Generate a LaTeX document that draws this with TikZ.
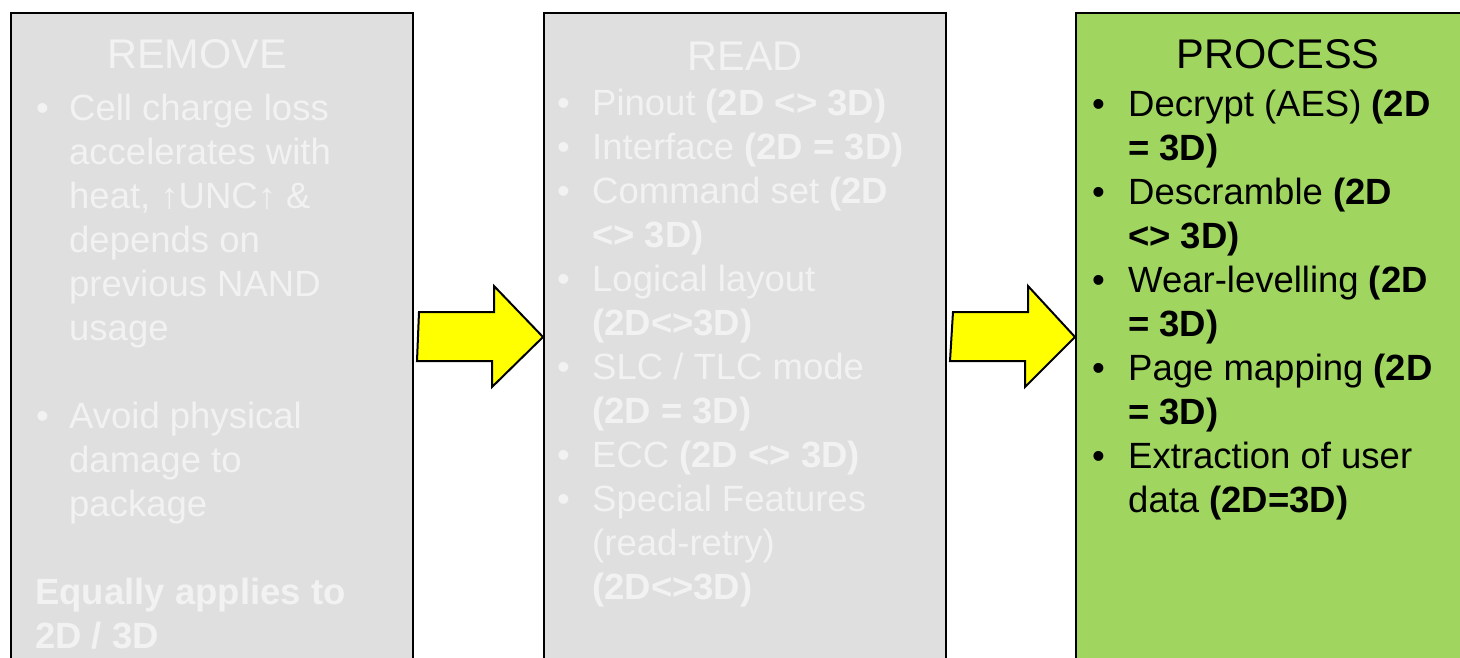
\documentclass[tikz,border=0pt]{standalone}
\usepackage{fontspec}
\setmainfont{Liberation Sans}
\definecolor{panelgray}{RGB}{223,223,223}
\definecolor{fadedtext}{RGB}{242,242,242}
\definecolor{panelgreen}{RGB}{160,214,96}
\definecolor{arrowyellow}{RGB}{255,255,0}

\tikzset{
  panel/.style={draw=black, line width=2pt, anchor=north west, inner sep=0pt,
    minimum width=402pt, minimum height=700pt},
  paneltitle/.style={anchor=base, inner sep=0pt, font=\fontsize{41.5}{48}\selectfont},
  txtline/.style={anchor=base west, inner sep=0pt, font=\fontsize{36.5}{44}\selectfont},
  blockarrow/.style={draw=black, line width=2pt, fill=arrowyellow, line join=miter},
}

\begin{document}
\begin{tikzpicture}[x=1pt, y=-1pt]
  \useasboundingbox (0,0) rectangle (1460,657);
  \clip (0,0) rectangle (1460,657);
  \fill[white] (0,0) rectangle (1460,657);

  % three stage panels
  \node[panel, fill=panelgray]  (remove)  at (10,12)   {};
  \node[panel, fill=panelgray]  (read)    at (543,12)  {};
  \node[panel, fill=panelgreen] (process) at (1075,12) {};

  % block arrows between the panels
  \path (remove.north east) ++(5,300) coordinate (a1s);
  \path (read.north east)   ++(6,300) coordinate (a2s);
  \draw[blockarrow] (a1s) -- ++(75,0) -- ++(0,-26) -- (read.north west |- 0,337)
    -- ++(-51,50) -- ++(0,-26) -- ++(-75,0) -- cycle;
  \draw[blockarrow] (a2s) -- ++(75,0) -- ++(0,-26) -- (process.north west |- 0,337)
    -- ++(-50,50) -- ++(0,-26) -- ++(-75,0) -- cycle;

  % REMOVE
  \begin{scope}[every node/.append style={text=fadedtext}]
    \node[paneltitle] (t1) at (197,68) {REMOVE};
    \node[txtline] (r1b) at (36,120) {•};
    \node[txtline] (r1a) at (69,120) {Cell charge loss};
    \node[txtline] (r1c) at (69,164) {accelerates with};
    \node[txtline] (r1d) at (69,208) {heat, ↑UNC↑ \&};
    \node[txtline] (r1e) at (69,252) {depends on};
    \node[txtline] (r1f) at (69,296) {previous NAND};
    \node[txtline] (r1g) at (69,340) {usage};
    \node[txtline] (r2b) at (36,428) {•};
    \node[txtline] (r2a) at (69,428) {Avoid physical};
    \node[txtline] (r2c) at (69,472) {damage to};
    \node[txtline] (r2d) at (69,516) {package};
    \node[txtline] (r3a) at (35,604) {\textbf{Equally applies to}};
    \node[txtline] (r3b) at (35,648) {\textbf{2D / 3D}};
  \end{scope}

  % READ
  \begin{scope}[every node/.append style={text=fadedtext}]
    \node[paneltitle] (t2) at (745,70) {READ};
    \node[txtline] at (557,115) {•};
    \node[txtline] (m1) at (592,115) {Pinout \textbf{(2D <> 3D)}};
    \node[txtline] at (557,159) {•};
    \node[txtline] (m2) at (592,159) {Interface \textbf{(2D = 3D)}};
    \node[txtline] at (557,203) {•};
    \node[txtline] (m3) at (592,203) {Command set \textbf{(2D}};
    \node[txtline] (m3b) at (592,247) {\textbf{<> 3D)}};
    \node[txtline] at (557,291) {•};
    \node[txtline] (m4) at (592,291) {Logical layout};
    \node[txtline] (m4b) at (592,335) {\textbf{(2D<>3D)}};
    \node[txtline] at (557,379) {•};
    \node[txtline] (m5) at (592,379) {SLC / TLC mode};
    \node[txtline] (m5b) at (592,423) {\textbf{(2D = 3D)}};
    \node[txtline] at (557,467) {•};
    \node[txtline] (m6) at (592,467) {ECC \textbf{(2D <> 3D)}};
    \node[txtline] at (557,511) {•};
    \node[txtline] (m7) at (592,511) {Special Features};
    \node[txtline] (m7b) at (592,555) {(read-retry)};
    \node[txtline] (m7c) at (592,599) {\textbf{(2D<>3D)}};
  \end{scope}

  % PROCESS
  \begin{scope}[every node/.append style={text=black}]
    \node[paneltitle] (t3) at (1278,68) {PROCESS};
    \node[txtline] at (1092,116) {•};
    \node[txtline] (p1) at (1128,116) {Decrypt (AES) \textbf{(2D}};
    \node[txtline] (p1b) at (1128,160) {\textbf{= 3D)}};
    \node[txtline] at (1092,204) {•};
    \node[txtline] (p2) at (1128,204) {Descramble \textbf{(2D}};
    \node[txtline] (p2b) at (1128,248) {\textbf{<> 3D)}};
    \node[txtline] at (1092,292) {•};
    \node[txtline] (p3) at (1128,292) {Wear-levelling \textbf{(2D}};
    \node[txtline] (p3b) at (1128,336) {\textbf{= 3D)}};
    \node[txtline] at (1092,380) {•};
    \node[txtline] (p4) at (1128,380) {Page mapping \textbf{(2D}};
    \node[txtline] (p4b) at (1128,424) {\textbf{= 3D)}};
    \node[txtline] at (1092,468) {•};
    \node[txtline] (p5) at (1128,468) {Extraction of user};
    \node[txtline] (p5b) at (1128,512) {data \textbf{(2D=3D)}};
  \end{scope}
\end{tikzpicture}
\end{document}
